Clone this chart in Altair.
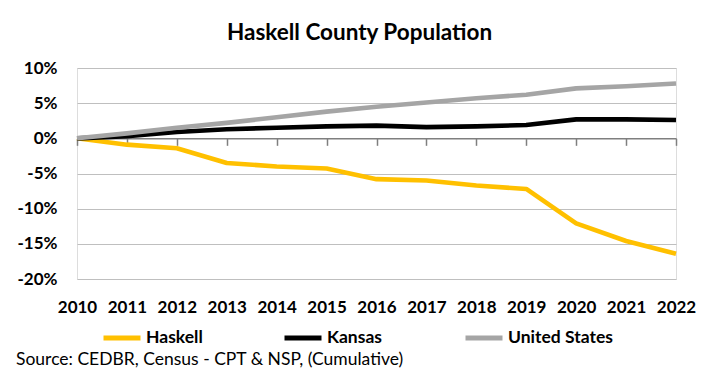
import altair as alt
import pandas as pd

# ---- data (cumulative % change since 2010) ----
years = [str(y) for y in range(2010, 2023)]
haskell = [0.0, -0.9, -1.4, -3.5, -4.0, -4.3, -5.8, -6.0, -6.7, -7.2, -12.1, -14.6, -16.4]
kansas = [0.0, 0.3, 0.9, 1.3, 1.5, 1.7, 1.8, 1.6, 1.7, 1.9, 2.7, 2.7, 2.6]
united_states = [0.0, 0.7, 1.5, 2.2, 3.0, 3.8, 4.5, 5.1, 5.7, 6.2, 7.1, 7.4, 7.8]

series_names = ["Haskell", "Kansas", "United States"]
series_colors = ["#FFC000", "#000000", "#A5A5A5"]
y_ticks = [10, 5, 0, -5, -10, -15, -20]
title_text = "Haskell County Population"
source_note = "Source: CEDBR, Census - CPT & NSP, (Cumulative)"

rows = []
for name, vals in zip(series_names, [haskell, kansas, united_states]):
    for yr, v in zip(years, vals):
        rows.append({"Year": yr, "Series": name, "Change": v})
df = pd.DataFrame(rows)
note_df = pd.DataFrame({"note": [source_note]})

FONT = "Lato"

lines = alt.Chart(df).mark_line(strokeWidth=4.6, strokeJoin="round").encode(
    x=alt.X(
        "Year:O",
        sort=years,
        scale=alt.Scale(type="point", padding=0),
        axis=alt.Axis(
            title=None, labelAngle=0, offset=-140.67,
            domainColor="#7F7F7F", domainWidth=1.5,
            tickColor="#7F7F7F", tickSize=7, tickWidth=1.5,
            labelPadding=154, labelFontSize=17, labelFontWeight="bold",
            labelColor="#000000", labelFont=FONT, grid=False,
        ),
    ),
    y=alt.Y(
        "Change:Q",
        scale=alt.Scale(domain=[-20, 10], nice=False, zero=False),
        axis=alt.Axis(
            title=None, values=y_ticks, labelExpr="datum.value + '%'",
            domain=False, ticks=False, tickSize=0, labelPadding=20,
            grid=True, gridColor="#BFBFBF", gridWidth=1,
            labelFontSize=17, labelFontWeight="bold", labelColor="#000000",
            labelFont=FONT,
        ),
    ),
    color=alt.Color(
        "Series:N",
        scale=alt.Scale(domain=series_names, range=series_colors),
        legend=alt.Legend(
            title=None, orient="none", legendX=24, legendY=249,
            direction="horizontal", columns=3, gridAlign="all",
            columnPadding=23, symbolType="stroke", symbolSize=1369,
            symbolStrokeWidth=5, labelFontSize=17.5, labelFontWeight="bold",
            labelColor="#000000", labelFont=FONT, labelOffset=3, padding=0,
        ),
    ),
)

note = alt.Chart(note_df).mark_text(
    align="left", baseline="alphabetic", fontSize=17.5, font=FONT, color="#000000"
).encode(x=alt.value(-61), y=alt.value(297), text="note:N")

chart = (
    alt.layer(lines, note)
    .properties(
        width=599,
        height=211,
        autosize=alt.AutoSizeParams(type="none"),
        padding={"left": 69, "top": 60, "right": 29, "bottom": 90},
        title=alt.TitleParams(
            title_text, fontSize=22.5, fontWeight="bold", font=FONT,
            anchor="middle", frame="group", dx=-17, offset=15, color="#000000",
        ),
    )
    .configure_view(stroke="transparent")
    .configure(background="white")
)

chart.save("out.html", embed_options={"renderer": "svg", "actions": False})
